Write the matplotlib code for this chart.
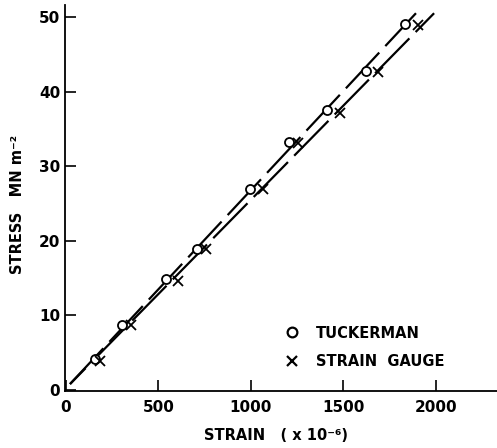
import matplotlib
matplotlib.use("Agg")
import matplotlib.pyplot as plt
from matplotlib.lines import Line2D

# Data
tuck_strain = [157, 303, 540, 710, 995, 1205, 1410, 1622, 1832]
tuck_stress = [4.2, 8.7, 14.9, 18.9, 26.9, 33.2, 37.5, 42.8, 49.1]
gauge_strain = [184, 350, 605, 757, 1065, 1255, 1481, 1686, 1903]
gauge_stress = [3.9, 8.7, 14.6, 18.9, 26.9, 33.1, 37.1, 42.6, 48.9]
tuck_line_strain = [22, 1892]
tuck_line_stress = [0.8, 50.5]
gauge_line_strain = [22, 1990]
gauge_line_stress = [0.8, 50.5]
xticks = [0, 500, 1000, 1500, 2000]
yticks = [0, 10, 20, 30, 40, 50]

plt.rcParams['font.family'] = ['DejaVu Sans']
plt.rcParams['font.weight'] = 'bold'
plt.rcParams['axes.labelweight'] = 'bold'
fig = plt.figure(figsize=(4.97, 4.48), dpi=100)
W, H = 497, 448
ax = fig.add_axes([65 / W, (H - 391) / H, (497 - 65) / W, (391 - 5) / H])

ax.plot(tuck_line_strain, tuck_line_stress, color='black', lw=1.6,
        linestyle=(0, (22, 4)))
ax.plot(gauge_line_strain, gauge_line_stress, color='black', lw=1.6,
        linestyle=(12, (22, 4)))
ax.plot(tuck_strain, tuck_stress, linestyle='none', marker='o', ms=6.5,
        mfc='white', mec='black', mew=1.3)
ax.plot(gauge_strain, gauge_stress, linestyle='none', marker='x', ms=7,
        mec='black', mew=1.3)

ax.set_xlim(-5, 2330)
ax.set_ylim(-0.13, 51.6)
ax.set_xticks(xticks)
ax.set_yticks(yticks)
ax.tick_params(direction='in', length=8, width=1.2, labelsize=11)
ax.tick_params(axis='x', pad=6.5)
ax.tick_params(axis='y', pad=3.5)
for s in ['top', 'right']:
    ax.spines[s].set_visible(False)
for s in ['left', 'bottom']:
    ax.spines[s].set_linewidth(1.3)

ax.set_xlabel('STRAIN   ( x 10\u207b\u2076)', fontsize=10.5,
              fontweight='bold')
ax.set_ylabel('STRESS   MN m\u207b\u00b2', fontsize=10.5, fontweight='bold')
ax.xaxis.set_label_coords((276 - 65) / 432, (391 - 428) / 386)
ax.yaxis.set_label_coords((25 - 65) / 432, (391 - 204) / 386)

handles = [Line2D([], [], linestyle='none', marker='o', ms=7, mfc='white',
                  mec='black', mew=1.6),
           Line2D([], [], linestyle='none', marker='x', ms=7, mec='black',
                  mew=1.6)]
ax.legend(handles, ['TUCKERMAN', 'STRAIN  GAUGE'], frameon=False,
          loc='center left', bbox_to_anchor=(284.7 / W, (H - 347.5) / H),
          bbox_transform=fig.transFigure, fontsize=10.5,
          borderpad=0, borderaxespad=0,
          handlelength=1.0, handletextpad=1.15, labelspacing=0.95)

fig.savefig('out.png', dpi=100)
